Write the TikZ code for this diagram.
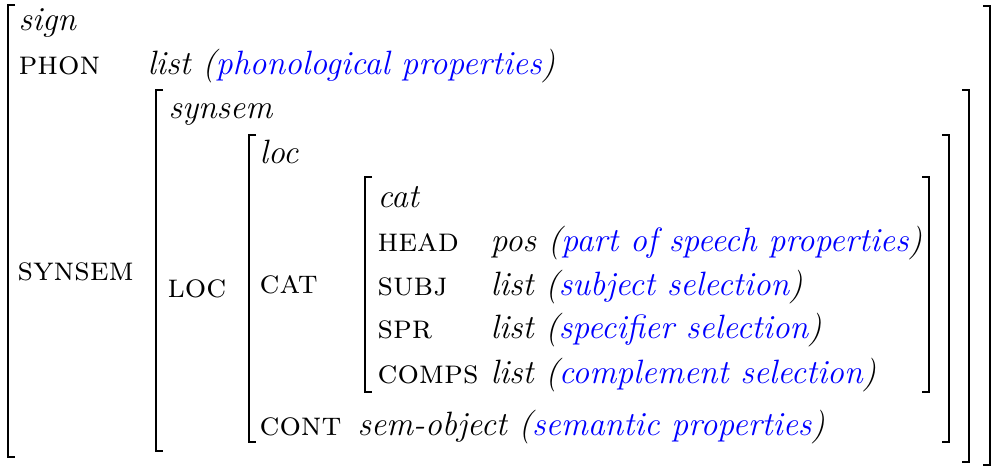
\documentclass[tikz,border=0pt]{standalone}
\usepackage{tikz}
\usepackage{xcolor}

\tikzset{
  every node/.style={font=\fontsize{12}{14}\selectfont},
  feat/.style={anchor=base west, inner sep=0pt, font=\fontsize{12}{14}\selectfont\scshape},
  val/.style={anchor=base west, inner sep=0pt, font=\fontsize{12}{14}\selectfont\itshape},
  brak/.style={line width=0.9pt},
}
\newcommand{\gloss}[1]{(\textcolor{blue}{#1})}

\begin{document}
\begin{tikzpicture}[x=0.125mm,y=-0.125mm]
      \useasboundingbox (0,0) rectangle (1000,467);
      % sign
      \node[val] (sign) at (18,30) {sign};
      \node[feat] (phon) at (18,74) {phon};
      \node[val] (phonval) at (147,74) {list \gloss{phonological properties}};
      \node[feat] (synsemf) at (17,280) {synsem};
      % synsem
      \node[val] (synsem) at (168,118) {synsem};
      \node[feat] (locf) at (167,297) {loc};
      % loc
      \node[val] (loc) at (259,163) {loc};
      \node[feat] (catf) at (259,293) {cat};
      \node[feat] (cont) at (259,435) {cont};
      \node[val] (contval) at (357,435) {sem-object \gloss{semantic properties}};
      % cat
      \node[val] (cat) at (377,207) {cat};
      \node[feat] (head) at (377,251) {head};
      \node[val] (headval) at (490,251) {pos \gloss{part of speech properties}};
      \node[feat] (subj) at (377,295) {subj};
      \node[val] (subjval) at (490,295) {list \gloss{subject selection}};
      \node[feat] (spr) at (377,338) {spr};
      \node[val] (sprval) at (490,338) {list \gloss{specifier selection}};
      \node[feat] (comps) at (377,383) {comps};
      \node[val] (compsval) at (490,383) {list \gloss{complement selection}};
      % brackets
      \draw[brak] (15,5) -| (8,457) -- (15,457);
      \draw[brak] (983,6) -| (990,465) -- (983,465);
      \draw[brak] (163,90) -| (156,451) -- (163,451);
      \draw[brak] (962,90) -| (969,462) -- (962,462);
      \draw[brak] (256,135) -| (249,442) -- (256,442);
      \draw[brak] (942,135) -| (949,442) -- (942,442);
      \draw[brak] (372,177) -| (365,392) -- (372,392);
      \draw[brak] (922,177) -| (929,392) -- (922,392);
    \end{tikzpicture}
\end{document}
